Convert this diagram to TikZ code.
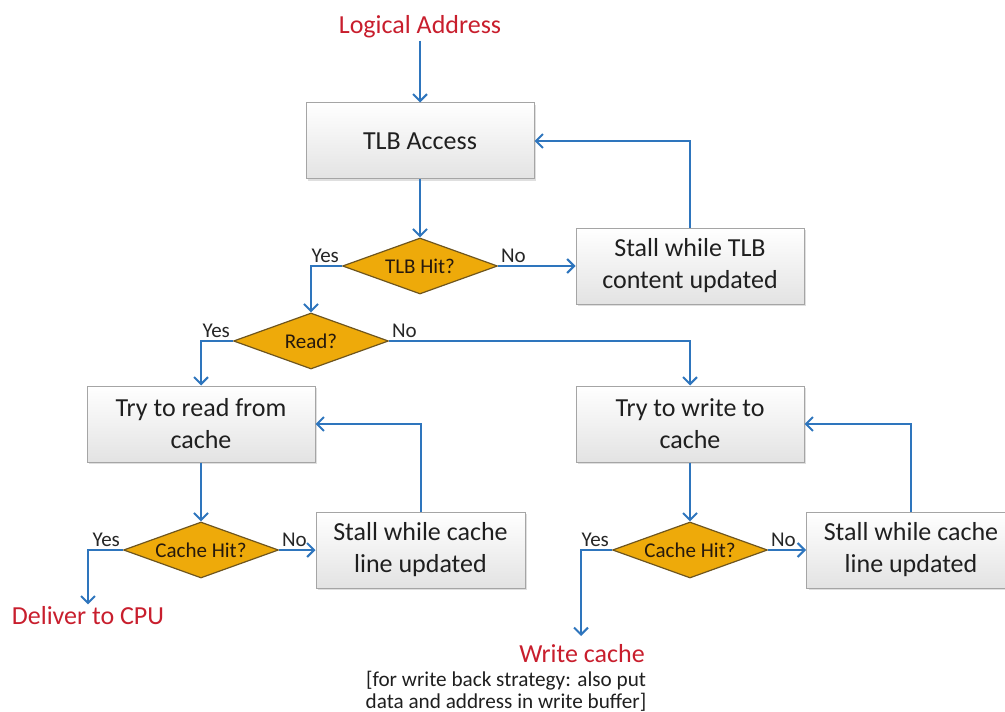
\documentclass[tikz,border=0pt]{standalone}
\usepackage{fontspec}
\setmainfont{Carlito}
\usepackage{tikz}
\usetikzlibrary{arrows.meta,shapes.geometric,shadows}

\definecolor{flowblue}{RGB}{46,117,189}
\definecolor{decgold}{RGB}{238,170,10}
\definecolor{decedge}{RGB}{110,85,30}
\definecolor{outred}{RGB}{200,30,45}
\definecolor{boxedge}{RGB}{165,165,165}

\tikzset{
	stepbox/.style={shape=rectangle, draw=boxedge, line width=0.5pt, top color=white, bottom color=gray!22, minimum width=114pt, minimum height=38pt, align=center, font=\fontsize{13}{16}\selectfont, text=black!88, drop shadow={shadow xshift=1pt, shadow yshift=-1pt, opacity=0.25}},
	stallbox/.style={stepbox, minimum width=104.5pt},
	decision/.style={shape=diamond, aspect=2.8, draw=decedge, line width=0.6pt, fill=decgold, minimum width=77.5pt, minimum height=28pt, inner sep=0pt, font=\fontsize{10.5}{12}\selectfont, text=black!80!brown},
	outcome/.style={text=outred, font=\fontsize{13}{15}\selectfont, inner sep=1pt},
	answer/.style={font=\fontsize{10.5}{12}\selectfont, inner sep=1pt, text=black!85},
	flow/.style={draw=flowblue, line width=1pt, -{Straight Barb[length=3.5pt,width=7pt]}},
}

\begin{document}
\begin{tikzpicture}[x=0.5pt,y=-0.5pt,node distance=57pt]
					\useasboundingbox (0,0) rectangle (1005,711);
					\node (logical) [outcome] at (420,27) {Logical Address};
					\node (tlb) [stepbox] [below of = logical] {TLB Access};
					\node (tlbhit) [decision] [below of = tlb, node distance=62.5pt] {TLB Hit?};
					\node (stalltlb) [stepbox] [right of = tlbhit, node distance=135pt] {Stall while TLB\\content updated};
					\node (read) [decision] at (311,341) {Read?};
					\node (tryread) [stepbox] at (201,424) {Try to read from\\cache};
					\node (trywrite) [stepbox] [right of = tryread, node distance=244.5pt] {Try to write to\\cache};
					\node (hitread) [decision] [below of = tryread, node distance=63pt] {Cache Hit?};
					\node (stallread) [stallbox] [right of = hitread, node distance=109.75pt] {Stall while cache\\line updated};
					\node (hitwrite) [decision] [below of = trywrite, node distance=63pt] {Cache Hit?};
					\node (stallwrite) [stallbox] [right of = hitwrite, node distance=110.5pt] {Stall while cache\\line updated};
					\node (deliver) [outcome] at (88,616) {Deliver to CPU};
					\node (writecache) [outcome] at (582,654) {Write cache};
					\node (note) [font=\fontsize{10.6}{11}\selectfont, align=center, text=black!88, inner sep=0.5pt] at (506,691) {[for write back strategy: also put\\data and address in write buffer]};
					\coordinate (wcend) at (581,636);

					\path[flow] (logical) edge (tlb);
					\path[flow] (tlb) edge (tlbhit);
					\draw[flow] (tlbhit.east) -- node[answer, pos=0, anchor=south west] {No} (stalltlb);
					\draw[flow] (stalltlb) |- (tlb);
					\draw[flow] (tlbhit.west) node[answer, anchor=south east] {Yes} -| (read);
					\draw[flow] (read.west) node[answer, anchor=south east] {Yes} -| (tryread);
					\draw[flow] (read.east) node[answer, anchor=south west] {No} -| (trywrite);
					\path[flow] (tryread) edge (hitread);
					\path[flow] (trywrite) edge (hitwrite);
					\draw[flow] (hitread.east) -- node[answer, pos=0, anchor=south west] {No} (stallread);
					\draw[flow] (stallread) |- (tryread);
					\draw[flow] (hitread.west) node[answer, anchor=south east] {Yes} -| (deliver);
					\draw[flow] (hitwrite.east) -- node[answer, pos=0, anchor=south west] {No} (stallwrite);
					\draw[flow] (stallwrite) |- (trywrite);
					\draw[flow] (hitwrite.west) node[answer, anchor=south east] {Yes} -| (wcend);
				\end{tikzpicture}
\end{document}
